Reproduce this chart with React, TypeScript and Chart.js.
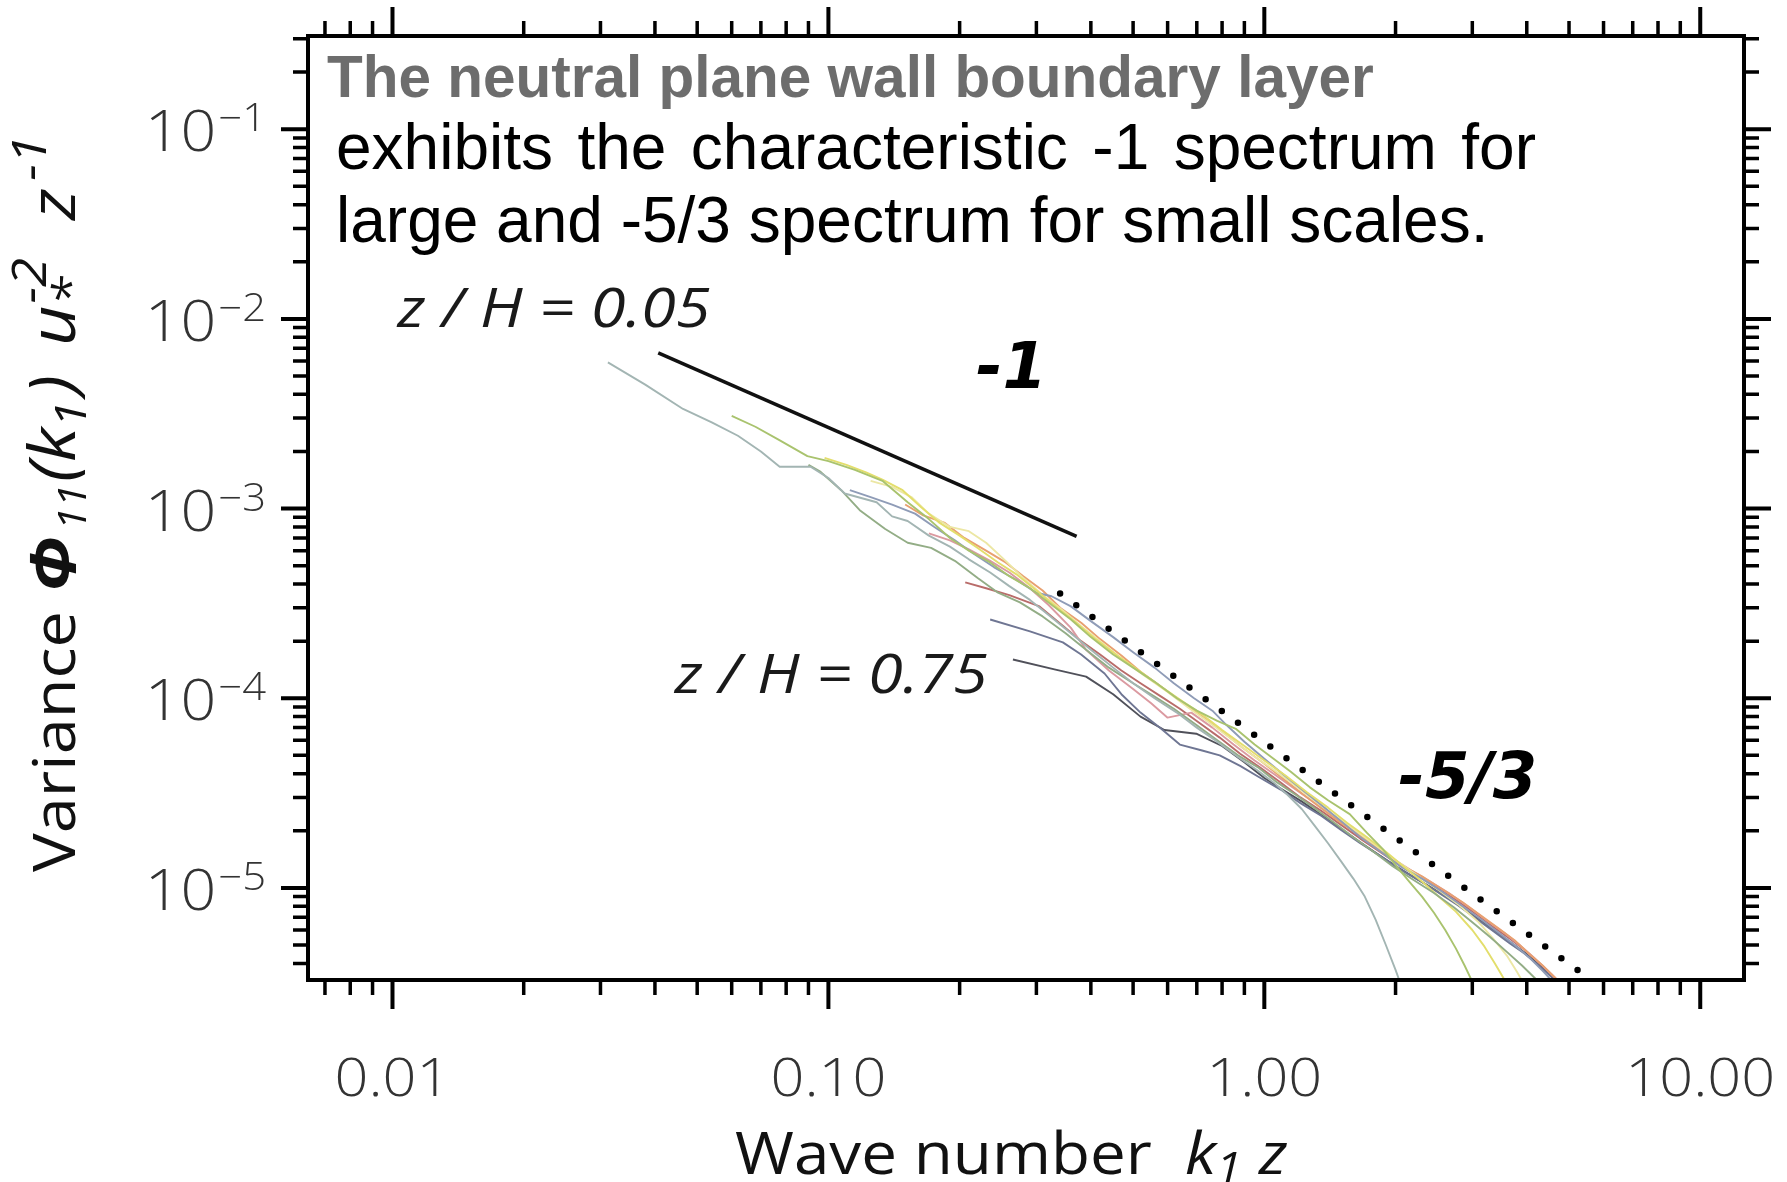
import { useEffect, useRef } from "react";
import { Chart, registerables } from "chart.js";

Chart.register(...registerables);

const CANVAS_W = 1787;
const CANVAS_H = 1182;

// Axis extents: wave number k1 z (x) and normalised variance (y)
const X_RANGE = [0.0064, 12.6];
const Y_RANGE = [3.27e-6, 0.31];

const X_TICK_VALUES = [0.01, 0.1, 1, 10];
const X_TICK_LABELS = ["0.01", "0.10", "1.00", "10.00"];
const Y_TICK_VALUES = [1e-1, 1e-2, 1e-3, 1e-4, 1e-5];
const Y_TICK_EXPONENTS = ["\u22121", "\u22122", "\u22123", "\u22124", "\u22125"];
const MINOR_MULTIPLIERS = [2, 3, 4, 5, 6, 7, 8, 9];

// Streamwise velocity spectra, [k1 z, Phi11 u*^-2 z^-1], lowest to highest z/H
const spectrum1 = [[0.0312,5.9e-3],[0.038,4.5e-3],[0.0464,3.35e-3],[0.054,2.85e-3],[0.062,2.42e-3],[0.07,2.0e-3],[0.0773,1.66e-3],[0.091,1.66e-3],[0.1,1.45e-3],[0.109,1.2e-3],[0.129,1.08e-3],[0.14,9.1e-4],[0.152,8.6e-4],[0.17,7.2e-4],[0.19,6.3e-4],[0.21,5.4e-4],[0.235,4.6e-4],[0.26,3.9e-4],[0.29,3.3e-4],[0.32,2.75e-4],[0.36,2.2e-4],[0.4,1.8e-4],[0.45,1.45e-4],[0.5,1.2e-4],[0.56,1.0e-4],[0.63,8.4e-5],[0.7,7.0e-5],[0.78,5.9e-5],[0.87,4.9e-5],[0.96,4.2e-5],[1.05,3.6e-5],[1.13,3.1e-5],[1.22,2.6e-5],[1.3,2.15e-5],[1.4,1.72e-5],[1.5,1.38e-5],[1.6,1.12e-5],[1.7,9.0e-6],[1.8,6.8e-6],[1.9,5.0e-6],[2.0,3.7e-6],[2.1,2.7e-6]];
const spectrum2 = [[0.06,3.08e-3],[0.068,2.7e-3],[0.077,2.3e-3],[0.0895,1.89e-3],[0.1,1.78e-3],[0.115,1.6e-3],[0.133,1.4e-3],[0.152,1.08e-3],[0.17,8.8e-4],[0.19,7.0e-4],[0.21,6.0e-4],[0.235,5.2e-4],[0.26,4.4e-4],[0.29,3.8e-4],[0.32,3.2e-4],[0.36,2.6e-4],[0.4,2.1e-4],[0.45,1.7e-4],[0.5,1.45e-4],[0.56,1.22e-4],[0.63,1.0e-4],[0.7,8.6e-5],[0.78,7.6e-5],[0.86,6.9e-5],[0.95,5.7e-5],[1.05,4.8e-5],[1.15,4.1e-5],[1.27,3.4e-5],[1.4,2.9e-5],[1.57,2.45e-5],[1.72,1.95e-5],[1.87,1.6e-5],[2.0,1.32e-5],[2.15,1.08e-5],[2.3,9.0e-6],[2.45,7.4e-6],[2.6,6.0e-6],[2.75,4.8e-6],[2.88,3.9e-6],[3.0,3.2e-6],[3.1,2.6e-6]];
const spectrum3 = [[0.09,1.7e-3],[0.096,1.56e-3],[0.107,1.25e-3],[0.118,9.8e-4],[0.135,7.8e-4],[0.152,6.6e-4],[0.172,6.2e-4],[0.195,5.3e-4],[0.22,4.3e-4],[0.245,3.6e-4],[0.275,3.2e-4],[0.31,2.7e-4],[0.35,2.2e-4],[0.39,1.8e-4],[0.44,1.45e-4],[0.5,1.2e-4],[0.56,1.02e-4],[0.62,8.8e-5],[0.7,7.2e-5],[0.78,6.0e-5],[0.87,5.0e-5],[0.97,4.3e-5],[1.07,3.6e-5],[1.18,3.1e-5],[1.3,2.65e-5],[1.45,2.2e-5],[1.6,1.85e-5],[1.78,1.55e-5],[1.97,1.3e-5],[2.2,1.1e-5],[2.45,9.4e-6],[2.72,7.9e-6],[3.0,6.6e-6],[3.3,5.5e-6],[3.6,4.6e-6],[3.9,3.9e-6],[4.2,3.3e-6],[4.5,2.8e-6]];
const spectrum4 = [[0.098,1.85e-3],[0.11,1.7e-3],[0.122,1.55e-3],[0.133,1.42e-3],[0.148,1.25e-3],[0.163,1.02e-3],[0.18,8.4e-4],[0.2,7.2e-4],[0.22,6.2e-4],[0.245,5.2e-4],[0.27,4.5e-4],[0.3,3.7e-4],[0.335,3.0e-4],[0.37,2.5e-4],[0.41,2.05e-4],[0.46,1.68e-4],[0.52,1.38e-4],[0.58,1.15e-4],[0.65,9.6e-5],[0.72,8.2e-5],[0.8,6.8e-5],[0.9,5.6e-5],[1.0,4.7e-5],[1.12,3.9e-5],[1.25,3.2e-5],[1.4,2.65e-5],[1.55,2.2e-5],[1.72,1.85e-5],[1.9,1.55e-5],[2.1,1.28e-5],[2.3,1.08e-5],[2.5,9.1e-6],[2.75,7.5e-6],[3.0,6.0e-6],[3.2,4.9e-6],[3.38,4.0e-6],[3.55,3.3e-6],[3.7,2.7e-6]];
const spectrum5 = [[0.112,1.25e-3],[0.125,1.15e-3],[0.14,1.05e-3],[0.158,9.4e-4],[0.175,8.0e-4],[0.195,6.8e-4],[0.215,5.8e-4],[0.24,4.9e-4],[0.27,4.2e-4],[0.3,3.6e-4],[0.325,3.45e-4],[0.36,3.05e-4],[0.4,2.55e-4],[0.45,2.1e-4],[0.5,1.75e-4],[0.56,1.45e-4],[0.62,1.2e-4],[0.69,1.0e-4],[0.76,8.6e-5],[0.82,7.2e-5],[0.9,5.9e-5],[1.0,4.8e-5],[1.1,4.0e-5],[1.22,3.3e-5],[1.36,2.7e-5],[1.5,2.25e-5],[1.66,1.85e-5],[1.85,1.55e-5],[2.05,1.3e-5],[2.3,1.12e-5],[2.55,9.6e-6],[2.85,8.0e-6],[3.15,6.8e-6],[3.45,5.8e-6],[3.75,5.0e-6],[4.05,4.3e-6],[4.35,3.65e-6],[4.65,3.1e-6],[4.95,2.7e-6]];
const spectrum6 = [[0.125,1.4e-3],[0.14,1.3e-3],[0.155,1.15e-3],[0.17,9.4e-4],[0.19,8.0e-4],[0.21,7.6e-4],[0.23,6.6e-4],[0.255,5.3e-4],[0.28,4.3e-4],[0.31,3.5e-4],[0.345,2.9e-4],[0.38,2.4e-4],[0.42,2.0e-4],[0.47,1.62e-4],[0.53,1.32e-4],[0.6,1.08e-4],[0.67,8.9e-5],[0.75,7.4e-5],[0.84,6.1e-5],[0.94,5.0e-5],[1.05,4.2e-5],[1.17,3.5e-5],[1.3,2.9e-5],[1.45,2.4e-5],[1.62,2.0e-5],[1.8,1.68e-5],[2.0,1.4e-5],[2.25,1.16e-5],[2.5,9.8e-6],[2.8,8.1e-6],[3.1,6.6e-6],[3.35,5.4e-6],[3.6,4.4e-6],[3.8,3.6e-6],[3.98,3.0e-6],[4.1,2.6e-6]];
const spectrum7 = [[0.15,1.05e-3],[0.165,9.2e-4],[0.185,8.4e-4],[0.205,7.0e-4],[0.23,6.0e-4],[0.255,5.2e-4],[0.28,4.4e-4],[0.31,3.7e-4],[0.34,3.0e-4],[0.38,2.5e-4],[0.42,2.05e-4],[0.47,1.68e-4],[0.52,1.38e-4],[0.58,1.15e-4],[0.65,9.5e-5],[0.72,8.0e-5],[0.8,6.7e-5],[0.89,5.5e-5],[0.99,4.6e-5],[1.1,3.8e-5],[1.22,3.15e-5],[1.36,2.6e-5],[1.5,2.2e-5],[1.68,1.85e-5],[1.86,1.56e-5],[2.06,1.32e-5],[2.3,1.15e-5],[2.55,9.9e-6],[2.85,8.4e-6],[3.15,7.1e-6],[3.45,6.1e-6],[3.75,5.3e-6],[4.05,4.5e-6],[4.35,3.9e-6],[4.65,3.35e-6],[4.95,2.9e-6],[5.1,2.7e-6]];
const spectrum8 = [[0.17,7.4e-4],[0.19,6.8e-4],[0.21,6.1e-4],[0.235,5.3e-4],[0.26,4.6e-4],[0.29,3.8e-4],[0.32,3.1e-4],[0.36,2.35e-4],[0.39,1.8e-4],[0.44,1.4e-4],[0.5,1.12e-4],[0.55,9.4e-5],[0.6,7.9e-5],[0.68,8.4e-5],[0.76,7.0e-5],[0.85,5.7e-5],[0.95,4.7e-5],[1.05,4.0e-5],[1.16,3.4e-5],[1.28,2.9e-5],[1.42,2.45e-5],[1.58,2.05e-5],[1.75,1.72e-5],[1.95,1.45e-5],[2.17,1.24e-5],[2.4,1.08e-5],[2.65,9.4e-6],[2.95,7.9e-6],[3.25,6.7e-6],[3.55,5.8e-6],[3.85,5.0e-6],[4.15,4.3e-6],[4.45,3.7e-6],[4.75,3.2e-6],[5.05,2.75e-6]];
const spectrum9 = [[0.206,4.08e-4],[0.23,3.8e-4],[0.26,3.5e-4],[0.305,3.05e-4],[0.346,2.4e-4],[0.38,2.0e-4],[0.42,1.7e-4],[0.47,1.4e-4],[0.52,1.2e-4],[0.58,1.02e-4],[0.64,8.8e-5],[0.71,7.4e-5],[0.79,6.2e-5],[0.88,5.1e-5],[0.98,4.3e-5],[1.09,3.6e-5],[1.21,3.0e-5],[1.35,2.55e-5],[1.5,2.15e-5],[1.66,1.82e-5],[1.84,1.55e-5],[2.04,1.32e-5],[2.26,1.15e-5],[2.5,1.0e-5],[2.78,8.5e-6],[3.06,7.3e-6],[3.36,6.2e-6],[3.66,5.4e-6],[3.96,4.7e-6],[4.26,4.05e-6],[4.56,3.5e-6],[4.86,3.0e-6],[5.1,2.7e-6]];
const spectrum10 = [[0.235,2.6e-4],[0.29,2.25e-4],[0.345,1.97e-4],[0.38,1.7e-4],[0.43,1.35e-4],[0.47,1.05e-4],[0.52,8.4e-5],[0.58,6.9e-5],[0.64,5.7e-5],[0.72,5.3e-5],[0.79,5.0e-5],[0.88,4.4e-5],[0.98,3.8e-5],[1.09,3.3e-5],[1.21,2.8e-5],[1.35,2.4e-5],[1.5,2.02e-5],[1.66,1.72e-5],[1.84,1.48e-5],[2.04,1.26e-5],[2.26,1.1e-5],[2.5,9.5e-6],[2.78,8.1e-6],[3.06,6.9e-6],[3.36,5.9e-6],[3.66,5.1e-6],[3.96,4.5e-6],[4.26,3.9e-6],[4.56,3.4e-6],[4.86,2.95e-6],[5.1,2.65e-6]];
const spectrum11 = [[0.265,1.6e-4],[0.33,1.42e-4],[0.39,1.3e-4],[0.45,1.05e-4],[0.52,8.0e-5],[0.59,6.8e-5],[0.698,6.5e-5],[0.8,5.6e-5],[0.9,4.6e-5],[1.0,3.8e-5],[1.1,3.3e-5],[1.22,2.85e-5],[1.36,2.4e-5],[1.5,2.05e-5],[1.66,1.74e-5],[1.84,1.48e-5],[2.04,1.27e-5],[2.26,1.1e-5],[2.5,9.6e-6],[2.78,8.2e-6],[3.06,7.0e-6],[3.36,6.0e-6],[3.66,5.2e-6],[3.96,4.55e-6],[4.26,3.95e-6],[4.56,3.4e-6],[4.86,2.95e-6],[5.1,2.65e-6]];

const SPECTRA = [spectrum1, spectrum2, spectrum3, spectrum4, spectrum5, spectrum6, spectrum7, spectrum8, spectrum9, spectrum10, spectrum11];
const SPECTRUM_COLORS = ["#a3b5b3", "#a9c36e", "#93ad86", "#e3de6c", "#8f9cb7", "#ece7a4", "#e8a070", "#db9aa1", "#b96c6a", "#6f7693", "#50515a"];

// Reference power laws: k^-1 (solid) and k^-5/3 (dotted)
const SLOPE_MINUS_ONE = [[0.0407, 6.62e-3], [0.371, 7.14e-4]];
const SLOPE_MINUS_FIVE_THIRDS = [[0.34, 3.57e-4], [5.4, 3.5e-6]];

// In-plot annotations, anchored at [k1 z, Phi] (left edge, baseline)
const NOTE_TEXTS = ["z / H = 0.05", "z / H = 0.75", "-1", "-5/3"];
const NOTE_ANCHORS = [[0.01027, 9.04e-3], [0.0444, 1.06e-4], [0.218, 4.31e-3], [2.03, 2.97e-5]];

const HEADLINE = "The neutral plane wall boundary layer";
const BODY_LINES = ["exhibits the characteristic -1 spectrum for", "large and -5/3 spectrum for small scales."];

const SANS = "'Open Sans', 'DejaVu Sans', sans-serif";
const STRETCH = 1.1;

// a run of text pieces; `at` places a piece at a fixed offset along the run
type Run = { text: string; font: string; dy?: number; gap?: number; at?: number; hold?: boolean };

function drawRuns(ctx: CanvasRenderingContext2D, runs: Run[], sx: number) {
  let cx = 0;
  for (const r of runs) {
    if (r.at !== undefined) cx = r.at;
    cx += r.gap || 0;
    ctx.font = r.font;
    ctx.save();
    ctx.translate(cx, 0);
    ctx.scale(sx, 1);
    ctx.fillText(r.text, 0, r.dy || 0);
    ctx.restore();
    if (!r.hold) cx += ctx.measureText(r.text).width * sx;
  }
}

function stretchedText(ctx: CanvasRenderingContext2D, text: string, x: number, y: number, sx: number) {
  ctx.save();
  ctx.translate(x, y);
  ctx.scale(sx, 1);
  ctx.fillText(text, 0, 0);
  ctx.restore();
}

const framePlugin = {
  id: "frameAndText",
  afterDatasetsDraw(chart: any) {
    const { ctx, chartArea: a, scales } = chart;
    const xs = scales.x;
    const ys = scales.y;
    ctx.save();

    // tick marks on all four sides, pointing outwards
    ctx.strokeStyle = "#000";
    ctx.lineCap = "butt";
    const inRange = (v: number, r: number[]) => v >= r[0] * 0.9999 && v <= r[1] * 1.0001;
    for (let d = -3; d <= 1; d++) {
      const base = Math.pow(10, d);
      for (const m of [1, ...MINOR_MULTIPLIERS]) {
        const v = m * base;
        if (!inRange(v, X_RANGE)) continue;
        const px = xs.getPixelForValue(v);
        const len = m === 1 ? 29 : 15;
        ctx.lineWidth = m === 1 ? 4 : 3.5;
        ctx.beginPath();
        ctx.moveTo(px, a.bottom);
        ctx.lineTo(px, a.bottom + len);
        ctx.moveTo(px, a.top);
        ctx.lineTo(px, a.top - len);
        ctx.stroke();
      }
    }
    for (let d = -6; d <= -1; d++) {
      const base = Math.pow(10, d);
      for (const m of [1, ...MINOR_MULTIPLIERS]) {
        const v = m * base;
        if (!inRange(v, Y_RANGE)) continue;
        const py = ys.getPixelForValue(v);
        const len = m === 1 ? 27 : 15;
        ctx.lineWidth = m === 1 ? 4 : 3.5;
        ctx.beginPath();
        ctx.moveTo(a.left, py);
        ctx.lineTo(a.left - len, py);
        ctx.moveTo(a.right, py);
        ctx.lineTo(a.right + len, py);
        ctx.stroke();
      }
    }

    // plot frame
    ctx.lineWidth = 4;
    ctx.strokeRect(a.left, a.top, a.right - a.left, a.bottom - a.top);
    ctx.restore();
  },
  afterDraw(chart: any) {
    const { ctx, chartArea: a, scales } = chart;
    const xs = scales.x;
    const ys = scales.y;
    ctx.save();
    ctx.textBaseline = "alphabetic";
    ctx.textAlign = "left";

    // x tick labels
    ctx.fillStyle = "#333";
    ctx.font = `300 54px ${SANS}`;
    X_TICK_VALUES.forEach((v, i) => {
      const w = ctx.measureText(X_TICK_LABELS[i]).width * STRETCH;
      stretchedText(ctx, X_TICK_LABELS[i], xs.getPixelForValue(v) - w / 2, a.bottom + 116, STRETCH);
    });

    // y tick labels: 10 with superscript exponent
    Y_TICK_VALUES.forEach((v, i) => {
      const py = ys.getPixelForValue(v);
      ctx.font = `300 38px ${SANS}`;
      const we = ctx.measureText(Y_TICK_EXPONENTS[i]).width * STRETCH;
      ctx.font = `300 57px ${SANS}`;
      const wm = ctx.measureText("10").width * STRETCH;
      const right = a.left - 42;
      stretchedText(ctx, "10", right - we - wm - 2, py + 22, STRETCH);
      ctx.font = `300 38px ${SANS}`;
      stretchedText(ctx, Y_TICK_EXPONENTS[i], right - we, py + 2, STRETCH);
    });

    // x axis title
    ctx.fillStyle = "#111";
    ctx.save();
    ctx.translate(735, a.bottom + 194);
    drawRuns(ctx, [
      { text: "Wave number", font: `400 58px ${SANS}` },
      { text: "k", font: `italic 400 58px ${SANS}`, at: 450 },
      { text: "1", font: `italic 400 42px ${SANS}`, dy: 8 },
      { text: "z", font: `italic 400 58px ${SANS}`, at: 524 },
    ], STRETCH);
    ctx.restore();

    // y axis title, rotated
    ctx.save();
    ctx.translate(75, 872);
    ctx.rotate(-Math.PI / 2);
    drawRuns(ctx, [
      { text: "Variance", font: `400 59px ${SANS}` },
      { text: "\u03A6", font: `italic 700 62px ${SANS}`, at: 280 },
      { text: "11", font: `italic 400 38px ${SANS}`, dy: 11, gap: 6 },
      { text: "(k", font: `italic 400 64px ${SANS}`, at: 390 },
      { text: "1", font: `italic 400 44px ${SANS}`, dy: 11 },
      { text: ")", font: `italic 400 64px ${SANS}`, gap: 6 },
      { text: "u", font: `italic 400 64px ${SANS}`, at: 526 },
      { text: "*", font: `italic 400 48px ${SANS}`, dy: 12, hold: true },
      { text: "-2", font: `italic 400 48px ${SANS}`, dy: -29, gap: 2 },
      { text: "z", font: `italic 400 64px ${SANS}`, at: 652 },
      { text: "-1", font: `italic 400 48px ${SANS}`, dy: -29, gap: 8 },
    ], STRETCH);
    ctx.restore();

    // annotations in data coordinates
    NOTE_TEXTS.forEach((t, i) => {
      const [k, p] = NOTE_ANCHORS[i];
      const x = xs.getPixelForValue(k);
      const y = ys.getPixelForValue(p);
      if (i < 2) {
        ctx.fillStyle = "#1a1a1a";
        ctx.font = `italic 400 55px ${SANS}`;
        stretchedText(ctx, t, x, y, 1.14);
      } else {
        ctx.fillStyle = "#000";
        ctx.font = "italic bold 64px 'DejaVu Sans', sans-serif";
        stretchedText(ctx, t, x, y, 1);
      }
    });

    // headline and description over the plot
    ctx.fillStyle = "#6d6d6d";
    ctx.font = "bold 58.5px 'Liberation Sans', Arial, sans-serif";
    ctx.fillText(HEADLINE, a.left + 19, a.top + 61);

    ctx.fillStyle = "#000";
    ctx.font = "400 64px 'Liberation Sans', Arial, sans-serif";
    // first line is justified to the block width
    const words = BODY_LINES[0].split(" ");
    const natural = words.reduce((s, w) => s + ctx.measureText(w).width, 0);
    const blockW = 1200;
    const gapW = (blockW - natural) / (words.length - 1);
    let cx = a.left + 28;
    words.forEach((w) => {
      ctx.fillText(w, cx, a.top + 133);
      cx += ctx.measureText(w).width + gapW;
    });
    ctx.fillText(BODY_LINES[1], a.left + 28, a.top + 206);
    ctx.restore();
  },
};

export default function App() {
  const canvasRef = useRef<HTMLCanvasElement | null>(null);

  useEffect(() => {
    const canvas = canvasRef.current;
    if (!canvas) return;

    const toPoints = (arr: number[][]) => arr.map(([x, y]) => ({ x, y }));

    const datasets: any[] = SPECTRA.map((s, i) => ({
      data: toPoints(s),
      borderColor: SPECTRUM_COLORS[i],
      borderWidth: 1.9,
      pointRadius: 0,
      tension: 0,
      fill: false,
      borderJoinStyle: "round",
    }));
    datasets.push({
      data: toPoints(SLOPE_MINUS_ONE),
      borderColor: "#111",
      borderWidth: 3.5,
      pointRadius: 0,
      fill: false,
    });
    datasets.push({
      data: toPoints(SLOPE_MINUS_FIVE_THIRDS),
      borderColor: "#000",
      borderWidth: 6.5,
      borderDash: [0, 20],
      borderCapStyle: "round",
      pointRadius: 0,
      fill: false,
    });

    const chart = new Chart(canvas, {
      type: "line",
      data: { datasets },
      options: {
        responsive: false,
        animation: false,
        parsing: false as any,
        normalized: true,
        layout: { padding: { left: 308, top: 36, right: CANVAS_W - 1744, bottom: CANVAS_H - 980 } },
        scales: {
          x: { type: "logarithmic", min: X_RANGE[0], max: X_RANGE[1], display: false },
          y: { type: "logarithmic", min: Y_RANGE[0], max: Y_RANGE[1], display: false },
        },
        plugins: { legend: { display: false }, tooltip: { enabled: false } },
      },
      plugins: [framePlugin],
    });

    return () => chart.destroy();
  }, []);

  return (
    <div style={{ position: "fixed", left: 0, top: 0, width: CANVAS_W, height: CANVAS_H, background: "#fff" }}>
      <canvas ref={canvasRef} width={CANVAS_W} height={CANVAS_H} style={{ display: "block" }} />
    </div>
  );
}
